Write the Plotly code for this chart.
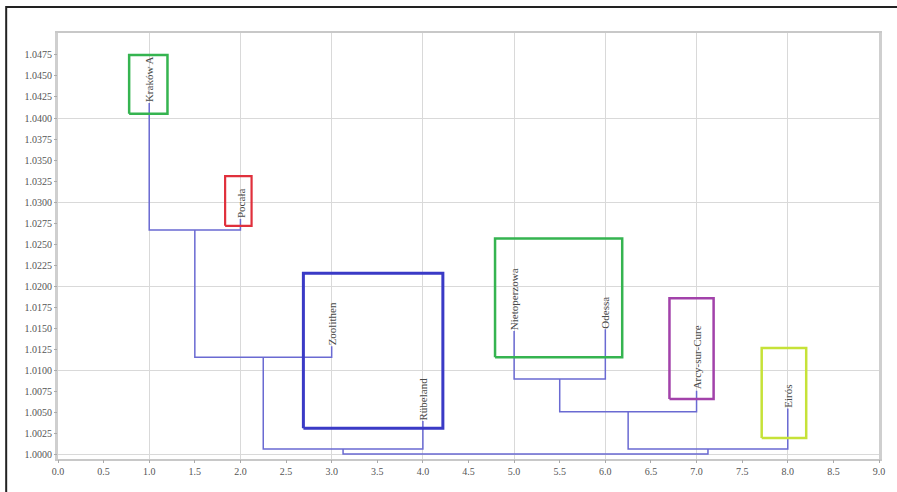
import plotly.graph_objects as go

# ---- data ----
leaf_names = ["Kraków A", "Pocała", "Zoolithen", "Rübeland",
              "Nietoperzowa", "Odessa", "Arcy-sur-Cure", "Eirós"]
leaf_x = [1, 2, 3, 4, 5, 6, 7, 8]
leaf_top = [1.0418, 1.0280, 1.0129, 1.0040, 1.0147, 1.0149, 1.0076, 1.0055]

# merges: node ids 0..7 are leaves, 8.. are clusters (in order of this list)
merge_left = [0, 8, 9, 4, 11, 12, 10]
merge_right = [1, 2, 3, 5, 6, 7, 13]
merge_height = [1.0267, 1.0116, 1.0007, 1.0090, 1.0051, 1.0007, 1.0001]

# highlight boxes around groups of labels
box_x0 = [0.78, 1.832, 2.690, 4.791, 6.703, 7.714]
box_x1 = [1.20, 2.122, 4.219, 6.185, 7.187, 8.202]
box_y0 = [1.0405, 1.0272, 1.00316, 1.01158, 1.00664, 1.0020]
box_y1 = [1.0475, 1.0331, 1.02156, 1.02568, 1.0186, 1.01268]
box_colors = ["#35b450", "#e0303c", "#3a3ac6", "#35b450", "#a242aa", "#c6e238"]
box_widths = [2.5, 2.2, 3, 2.5, 2.5, 2.5]

x_tick_vals = [i * 0.5 for i in range(19)]
x_tick_text = ["%.1f" % v for v in x_tick_vals]
y_tick_vals = [1.0 + i * 0.0025 for i in range(20)]
y_tick_text = ["%.4f" % v for v in y_tick_vals]

# ---- build dendrogram segments ----
node_x = list(leaf_x)
node_h = list(leaf_top)
seg_x, seg_y = [], []
for l, r, h in zip(merge_left, merge_right, merge_height):
    xl, xr = node_x[l], node_x[r]
    seg_x += [xl, xl, xr, xr, None]
    seg_y += [node_h[l], h, h, node_h[r], None]
    node_x.append((xl + xr) / 2)
    node_h.append(h)

fig = go.Figure()
fig.add_trace(go.Scatter(x=seg_x, y=seg_y, mode="lines",
                         line=dict(color="#6a6ad2", width=1.5),
                         hoverinfo="skip", showlegend=False))

for x0, x1, y0, y1, c, w in zip(box_x0, box_x1, box_y0, box_y1, box_colors, box_widths):
    fig.add_trace(go.Scatter(x=[x0, x1, x1, x0, x0], y=[y0, y0, y1, y1, y0],
                             mode="lines", line=dict(color=c, width=w),
                             xaxis="x2", yaxis="y2",
                             hoverinfo="skip", showlegend=False))

for name, x, t in zip(leaf_names, leaf_x, leaf_top):
    fig.add_annotation(x=x, y=t, xref="x", yref="y", text=name, showarrow=False,
                       textangle=-90, xanchor="center", yanchor="bottom",
                       borderpad=0,
                       font=dict(family="Liberation Serif", size=11, color="#4a4a4a"))

xr = [0, 9]
yr = [0.9995, 1.0501]
tickfont = dict(family="Liberation Serif", size=10, color="#555555")

fig.update_layout(
    width=897, height=492,
    margin=dict(l=58, r=15, t=33, b=33),
    paper_bgcolor="white", plot_bgcolor="white",
    xaxis=dict(range=xr, dtick=1, tick0=0, showgrid=True, gridcolor="#d9d9d9",
               gridwidth=1, showticklabels=False, ticks="", zeroline=False,
               showline=True, linecolor="#c8c8c8", linewidth=2, mirror=True),
    yaxis=dict(range=yr, dtick=0.01, tick0=1.0, showgrid=True, gridcolor="#d9d9d9",
               gridwidth=1, showticklabels=False, ticks="", zeroline=False,
               showline=True, linecolor="#cfcfcf", linewidth=3, mirror=True),
    xaxis2=dict(range=xr, overlaying="x", side="bottom", tickmode="array",
                tickvals=x_tick_vals, ticktext=x_tick_text, ticks="outside",
                ticklen=3, tickcolor="#aaaaaa", showgrid=False, zeroline=False,
                tickfont=tickfont, showline=False),
    yaxis2=dict(range=yr, overlaying="y", side="left", tickmode="array",
                tickvals=y_tick_vals, ticktext=y_tick_text, ticks="outside",
                ticklen=3, tickcolor="#aaaaaa", showgrid=False, zeroline=False,
                tickfont=tickfont, showline=False),
    shapes=[dict(type="rect", xref="paper", yref="paper",
                 x0=(6 - 58) / 824, x1=1.2, y0=-0.3, y1=1 + (33 - 7) / 426,
                 line=dict(color="#222222", width=2), layer="below")],
)

fig.write_html("out.html", config={"displayModeBar": False},
               post_script="document.body.style.margin='0px';document.body.style.overflow='hidden';")
